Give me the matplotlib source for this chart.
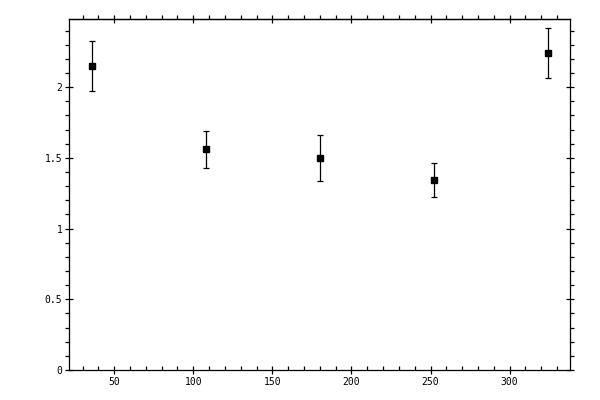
import matplotlib
matplotlib.use("Agg")
import matplotlib.pyplot as plt
from matplotlib.ticker import MultipleLocator

# values
x = [36, 108, 180, 252, 324]
y = [2.149, 1.562, 1.498, 1.342, 2.241]
yerr = [0.176, 0.131, 0.163, 0.120, 0.177]

plt.rcParams['font.family'] = ['DejaVu Sans Mono']
plt.rcParams['font.size'] = 7

fig = plt.figure(figsize=(6, 4), dpi=100)
ax = fig.add_axes([0.1155, 0.075, 0.835, 0.877])

ax.errorbar(x, y, yerr=yerr, fmt='s', color='black', ms=5, capsize=2.2,
            elinewidth=0.9, capthick=0.9)

ax.set_xlim(21.6, 338.4)
ax.set_ylim(0, 2.48)
ax.xaxis.set_major_locator(MultipleLocator(50))
ax.xaxis.set_minor_locator(MultipleLocator(10))
ax.yaxis.set_major_locator(MultipleLocator(0.5))
ax.yaxis.set_minor_locator(MultipleLocator(0.1))
ax.yaxis.set_major_formatter(matplotlib.ticker.FuncFormatter(lambda v, p: f"{v:g}"))

for s in ax.spines.values():
    s.set_linewidth(0.9)

ax.tick_params(which='major', direction='inout', length=6, width=0.9,
               top=True, right=True, pad=2)
ax.tick_params(axis='y', which='minor', direction='out', length=3, width=0.9,
               left=True, right=True)
ax.tick_params(axis='x', which='minor', direction='in', length=3, width=0.9,
               bottom=True, top=False)

# top axis with outward minor ticks
top = ax.secondary_xaxis('top')
top.xaxis.set_major_locator(MultipleLocator(50))
top.xaxis.set_minor_locator(MultipleLocator(10))
top.tick_params(which='major', direction='inout', length=6, width=0.9, labeltop=False)
top.tick_params(which='minor', direction='out', length=3, width=0.9)
top.spines['top'].set_linewidth(0.9)
ax.tick_params(axis='x', which='major', top=False)

fig.savefig("out.png", dpi=100)
